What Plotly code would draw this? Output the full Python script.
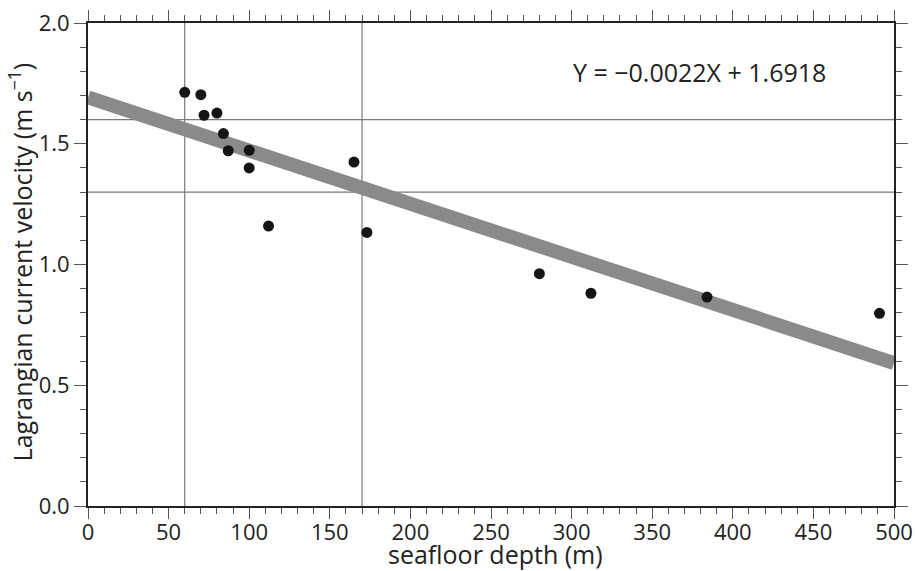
import plotly.graph_objects as go

depth = [60, 70, 72, 80, 84, 87, 100, 100, 112, 165, 173, 280, 312, 384, 491]
velocity = [1.713, 1.703, 1.618, 1.627, 1.542, 1.471, 1.473, 1.400, 1.159, 1.424, 1.133, 0.962, 0.881, 0.865, 0.798]

slope = -0.0022
intercept = 1.6918
x_range = [0, 500]
y_range = [0, 2.0]
ref_x = [60, 170]
ref_y = [1.3, 1.6]
equation = "Y = \u22120.0022X + 1.6918"
x_title = "seafloor depth (m)"
y_title = "Lagrangian current velocity (m s<sup>\u22121</sup>)"

FONT = "Open Sans"
fig = go.Figure()

fig.add_trace(go.Scatter(
    x=x_range, y=[intercept + slope * v for v in x_range],
    mode="lines", line=dict(color="#8a8a8a", width=14), hoverinfo="skip", showlegend=False))

fig.add_trace(go.Scatter(
    x=depth, y=velocity, mode="markers",
    marker=dict(color="#151515", size=11, line=dict(width=0)), showlegend=False))

for xv in ref_x:
    fig.add_shape(type="line", xref="x", yref="y", x0=xv, x1=xv, y0=y_range[0], y1=y_range[1],
                  line=dict(color="#7a7a7a", width=1.2), layer="below")
for yv in ref_y:
    fig.add_shape(type="line", xref="x", yref="y", x0=x_range[0], x1=x_range[1], y0=yv, y1=yv,
                  line=dict(color="#7a7a7a", width=1.2), layer="below")

fig.add_annotation(x=0.759, y=0.899, xref="paper", yref="paper", text=equation, showarrow=False,
                   font=dict(family=FONT, size=25, color="#222"), xanchor="center", yanchor="middle")
fig.add_annotation(x=0.505, y=-0.099, xref="paper", yref="paper", text=x_title, showarrow=False,
                   font=dict(family=FONT, size=25, color="#222"), xanchor="center", yanchor="middle",
                   borderpad=0)
fig.add_annotation(x=-0.084, y=0.505, xref="paper", yref="paper", text=y_title, showarrow=False,
                   textangle=-90, font=dict(family=FONT, size=25, color="#222"),
                   xanchor="center", yanchor="middle")

axis_common = dict(
    showgrid=False, zeroline=False, showline=True, linecolor="#222", linewidth=2,
    mirror="allticks", ticks="outside", tickcolor="#555", tickwidth=1.2, automargin=False,
    tickfont=dict(family=FONT, size=22, color="#222"),
)

fig.update_xaxes(range=x_range, dtick=50, ticklen=11, ticklabelstandoff=-5,
                 minor=dict(dtick=10, ticklen=6, ticks="outside", tickcolor="#555", tickwidth=1.2),
                 **axis_common)
fig.update_yaxes(range=y_range, dtick=0.5, tickformat=".1f", ticklen=12,
                 minor=dict(dtick=0.1, ticklen=6, ticks="outside", tickcolor="#555", tickwidth=1.2),
                 **axis_common)

fig.update_layout(
    width=915, height=571, margin=dict(l=88, r=21, t=23, b=65),
    plot_bgcolor="white", paper_bgcolor="white", showlegend=False,
)

fig.write_html("out.html")
